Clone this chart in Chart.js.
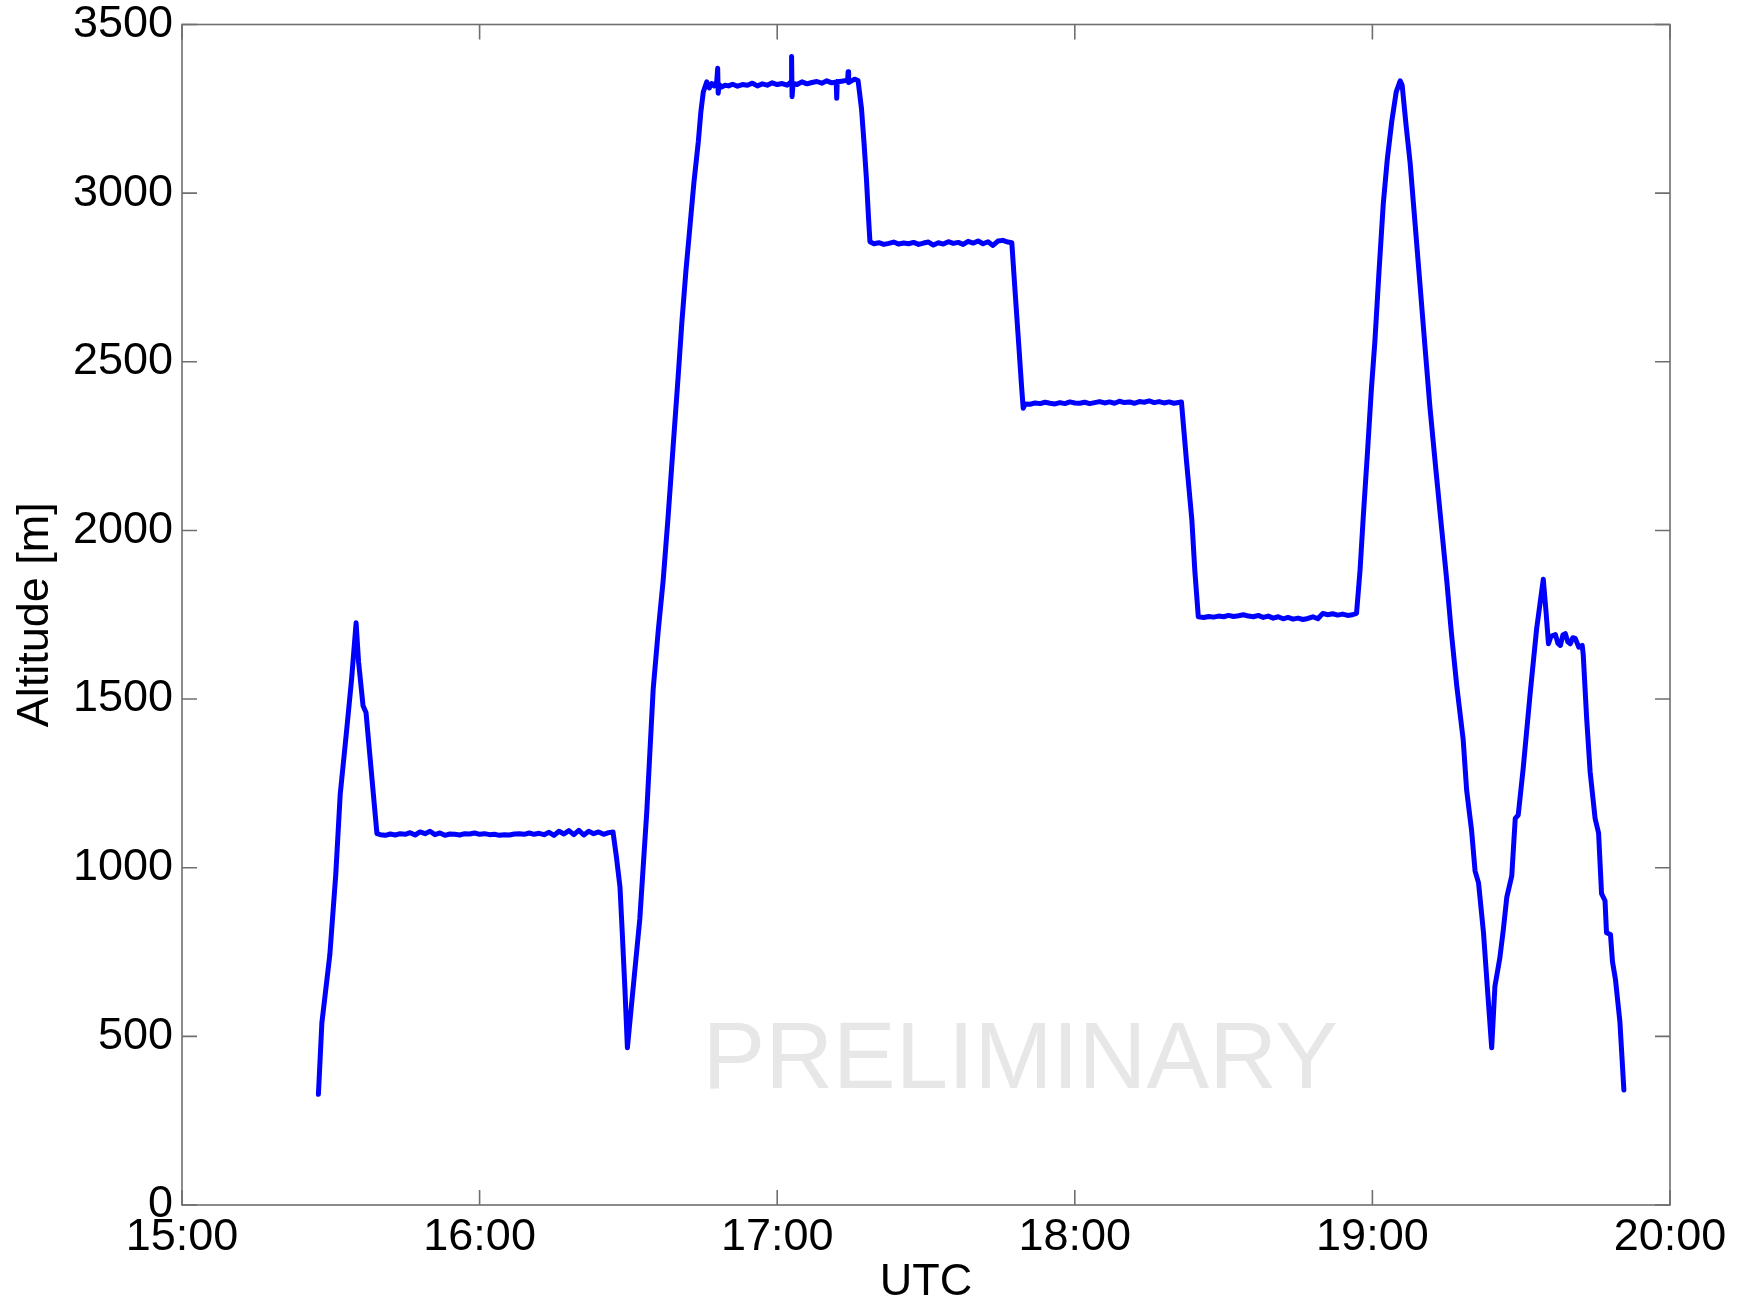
<!DOCTYPE html>
<html>
<head>
<meta charset="utf-8">
<title>Altitude</title>
<script src="https://cdn.jsdelivr.net/npm/chart.js@4.4.1/dist/chart.umd.min.js"></script>
<style>
  html, body { margin: 0; padding: 0; background: #ffffff; }
  #wrap { width: 1748px; height: 1310px; position: relative; }
</style>
</head>
<body>
<div id="wrap"><canvas id="alt"></canvas></div>
<script>
// Flight altitude track, time in minutes after 15:00 UTC
const timeMin = [
  27.5, 28.2, 29.8, 31.0, 31.9, 33.2, 34.2, 35.1, 35.6, 36.5, 37.1, 38.2, 39.3,
  40, 41, 42, 43, 44, 45, 46, 47, 48, 49, 50, 51, 52, 53, 54, 55, 56, 57, 58, 59,
  60, 61, 62, 63, 64, 65, 66, 67, 68, 69, 70, 71, 72, 73, 74, 75, 76, 77, 78, 79,
  80, 81, 82, 83, 84, 85, 86, 86.9,
  87.6, 88.3, 88.7, 89.3, 89.8,
  90.8, 92.3, 93.7, 95.0, 96.0, 97.0, 98.0, 99.0, 100.0, 100.8, 101.6, 102.4,
  103.2, 104.1, 104.6, 105.1, 105.8,
  106.3, 106.8, 107.3, 107.8, 108.0, 108.1, 108.3, 108.8, 109.5, 110.2, 111, 112,
  113, 114, 115, 116, 117, 118, 119, 120, 121, 122, 122.8, 122.9, 123.0, 123.2,
  124, 125, 126, 127, 128, 129, 130, 131, 131.9, 132.0, 132.1, 133, 134.2, 134.3,
  134.4, 135, 135.6, 136.3,
  137.0, 137.5, 138.0, 138.4, 138.7,
  139.5, 140.5, 141.5, 142.5, 143.5, 144.5, 145.5, 146.5, 147.5, 148.5, 149.5,
  150.5, 151.5, 152.5, 153.5, 154.5, 155.5, 156.5, 157.5, 158.5, 159.5, 160.5,
  161.5, 162.5, 163.5, 164.5, 165.5, 166.5, 167.3,
  168.0, 168.7, 169.3, 169.6, 170.0,
  171, 172, 173, 174, 175, 176, 177, 178, 179, 180, 181, 182, 183, 184, 185, 186,
  187, 188, 189, 190, 191, 192, 193, 194, 195, 196, 197, 198, 199, 200, 201.5,
  202.5, 203.6, 204.2, 204.9,
  206, 207, 208, 209, 210, 211, 212, 213, 214, 215, 216, 217, 218, 219, 220, 221,
  222, 223, 224, 225, 226, 227, 228, 229, 230, 231, 232, 233, 234, 235, 236, 236.8,
  237.5, 238.2, 239.0, 239.8, 240.5, 241.3, 242.2, 243.0, 243.9, 244.8, 245.6, 246.0,
  246.8, 247.6, 248.6, 249.6, 250.6, 251.6, 252.8, 254.0, 255.0, 255.9, 257.0,
  258.3, 259.0, 260.0, 260.7, 261.4, 262.4, 263.2, 264.05,
  264.7, 265.7, 266.4, 267.1, 268.1, 268.8, 269.4, 270.4, 271.8, 273.1, 274.45,
  275.0, 275.5, 276.0, 276.9, 277.4, 277.9, 278.4, 278.9, 279.4, 279.9, 280.4,
  280.9, 281.6, 282.3,
  282.5, 283.2, 283.9, 284.9, 285.6, 286.2, 286.9, 287.2, 288.0, 288.4, 289.0,
  289.9, 290.7
];

// Altitude in metres, one value per entry of timeMin
const altitudeM = [
  328, 540, 741, 980, 1218, 1408, 1560, 1726, 1610, 1480, 1460, 1280, 1101,
  1098, 1096, 1100, 1097, 1101, 1099, 1104, 1097, 1106, 1101, 1108, 1098, 1103, 1096, 1100, 1099, 1097, 1101, 1100, 1103,
  1099, 1101, 1098, 1099, 1096, 1098, 1097, 1100, 1101, 1099, 1103, 1099, 1102, 1098, 1105, 1096, 1108, 1100, 1110, 1098,
  1111, 1097, 1108, 1101, 1106, 1099, 1104, 1106,
  1030, 943, 826, 640, 466,
  620, 848, 1165, 1530, 1700, 1850, 2040, 2245, 2450, 2621, 2770, 2900,
  3030, 3153, 3240, 3300, 3330,
  3312, 3325, 3318, 3330, 3370, 3296, 3322, 3315, 3320, 3318, 3323, 3317,
  3322, 3320, 3326, 3318, 3324, 3320, 3327, 3322, 3325, 3320, 3330, 3405, 3286, 3325,
  3322, 3330, 3324, 3328, 3331, 3326, 3333, 3327, 3330, 3281, 3330, 3332, 3335, 3360,
  3328, 3333, 3338, 3334,
  3250, 3150, 3040, 2930, 2856,
  2850, 2853, 2848, 2851, 2855, 2849, 2852, 2850, 2854, 2848, 2852,
  2855, 2846, 2853, 2849, 2856, 2851, 2854, 2848, 2857, 2852, 2858,
  2850, 2856, 2845, 2858, 2860, 2855, 2853,
  2700, 2550, 2420, 2362, 2375,
  2374, 2378, 2376, 2380, 2377, 2375, 2379, 2376, 2381, 2378, 2377, 2380, 2376, 2379, 2382, 2378,
  2381, 2377, 2383, 2379, 2381, 2377, 2382, 2380, 2384, 2379, 2382, 2378, 2381, 2377, 2381,
  2209, 2031, 1880, 1744,
  1742, 1745, 1743, 1746, 1744, 1748, 1745, 1747, 1750, 1746, 1744, 1748, 1742, 1746, 1740, 1744,
  1738, 1742, 1737, 1740, 1736, 1739, 1744, 1738, 1754, 1750, 1753, 1749, 1752, 1748, 1750, 1754,
  1880, 2050, 2230, 2420, 2560, 2760, 2970, 3100, 3212, 3300, 3333, 3320,
  3200, 3091, 2910, 2728, 2545, 2365, 2180, 2000, 1850, 1700, 1540,
  1380, 1230, 1110, 990, 955, 807, 640, 466,
  648, 733, 817, 913, 976, 1146, 1156, 1294, 1516, 1707, 1855,
  1760, 1664, 1686, 1691, 1665, 1659, 1690, 1694, 1670, 1664, 1682,
  1680, 1654, 1659,
  1633, 1442, 1284, 1146, 1103, 923, 902, 807, 802, 722, 669,
  543, 341
];

// Axis tick values and labels
const xTickMinutes = [0, 60, 120, 180, 240, 300];
const xTickLabels = ['15:00', '16:00', '17:00', '18:00', '19:00', '20:00'];
const yTickValues = [0, 500, 1000, 1500, 2000, 2500, 3000, 3500];

const watermarkText = 'PRELIMINARY';
const watermarkAt = { t: 169, alt: 347 };

const FONT = '"Liberation Sans", Arial, Helvetica, sans-serif';

const points = timeMin.map((t, i) => ({ x: t, y: altitudeM[i] }));

// Box frame with inward tick marks on all four sides
const boxAxes = {
  id: 'boxAxes',
  afterDatasetsDraw(chart) {
    const { ctx, chartArea: a, scales: { x, y } } = chart;
    const len = 15;
    ctx.save();
    ctx.strokeStyle = '#6f6f6f';
    ctx.lineWidth = 1.6;
    ctx.strokeRect(a.left, a.top, a.right - a.left, a.bottom - a.top);
    ctx.beginPath();
    xTickMinutes.forEach(v => {
      const px = x.getPixelForValue(v);
      ctx.moveTo(px, a.bottom); ctx.lineTo(px, a.bottom - len);
      ctx.moveTo(px, a.top); ctx.lineTo(px, a.top + len);
    });
    yTickValues.forEach(v => {
      const py = y.getPixelForValue(v);
      ctx.moveTo(a.left, py); ctx.lineTo(a.left + len, py);
      ctx.moveTo(a.right, py); ctx.lineTo(a.right - len, py);
    });
    ctx.stroke();
    ctx.restore();
  }
};

// Faint draft stamp behind the trace
const stamp = {
  id: 'stamp',
  beforeDatasetsDraw(chart) {
    const { ctx, scales: { x, y } } = chart;
    ctx.save();
    ctx.font = '94px ' + FONT;
    ctx.fillStyle = '#e7e7e7';
    ctx.textAlign = 'center';
    ctx.textBaseline = 'alphabetic';
    ctx.fillText(watermarkText, x.getPixelForValue(watermarkAt.t), y.getPixelForValue(watermarkAt.alt));
    ctx.restore();
  }
};

new Chart(document.getElementById('alt'), {
  type: 'line',
  data: {
    datasets: [{
      data: points,
      borderColor: '#0000ff',
      borderWidth: 5,
      pointRadius: 0,
      tension: 0,
      fill: false,
      borderJoinStyle: 'round',
      borderCapStyle: 'round'
    }]
  },
  options: {
    responsive: true,
    maintainAspectRatio: false,
    animation: false,
    parsing: false,
    layout: { padding: { top: 24.5, right: 78, bottom: 0, left: 0 } },
    plugins: { legend: { display: false }, tooltip: { enabled: false } },
    scales: {
      x: {
        type: 'linear',
        min: 0,
        max: 300,
        afterBuildTicks(scale) { scale.ticks = xTickMinutes.map(v => ({ value: v })); },
        afterFit(scale) {
          scale.height = 105;
          scale.paddingLeft = 0; scale.paddingRight = 0;
        },
        grid: { display: false, drawTicks: false },
        border: { display: false },
        ticks: {
          autoSkip: false,
          maxRotation: 0,
          padding: 6,
          color: '#000000',
          font: { family: FONT, size: 45 },
          callback(v) { const i = xTickMinutes.indexOf(v); return i >= 0 ? xTickLabels[i] : ''; }
        },
        title: {
          display: true,
          text: 'UTC',
          color: '#000000',
          font: { family: FONT, size: 45 },
          padding: { top: 0, bottom: 0 }
        }
      },
      y: {
        type: 'linear',
        min: 0,
        max: 3500,
        afterBuildTicks(scale) { scale.ticks = yTickValues.map(v => ({ value: v })); },
        afterFit(scale) {
          scale.width = 182;
          scale.paddingTop = 0; scale.paddingBottom = 0;
        },
        grid: { display: false, drawTicks: false },
        border: { display: false },
        ticks: {
          autoSkip: false,
          padding: 9,
          color: '#000000',
          font: { family: FONT, size: 45 },
          callback(v) { return String(v); }
        },
        title: {
          display: true,
          text: 'Altitude [m]',
          color: '#000000',
          font: { family: FONT, size: 45 },
          padding: { top: 9, bottom: 0 }
        }
      }
    }
  },
  plugins: [stamp, boxAxes]
});
</script>
</body>
</html>
